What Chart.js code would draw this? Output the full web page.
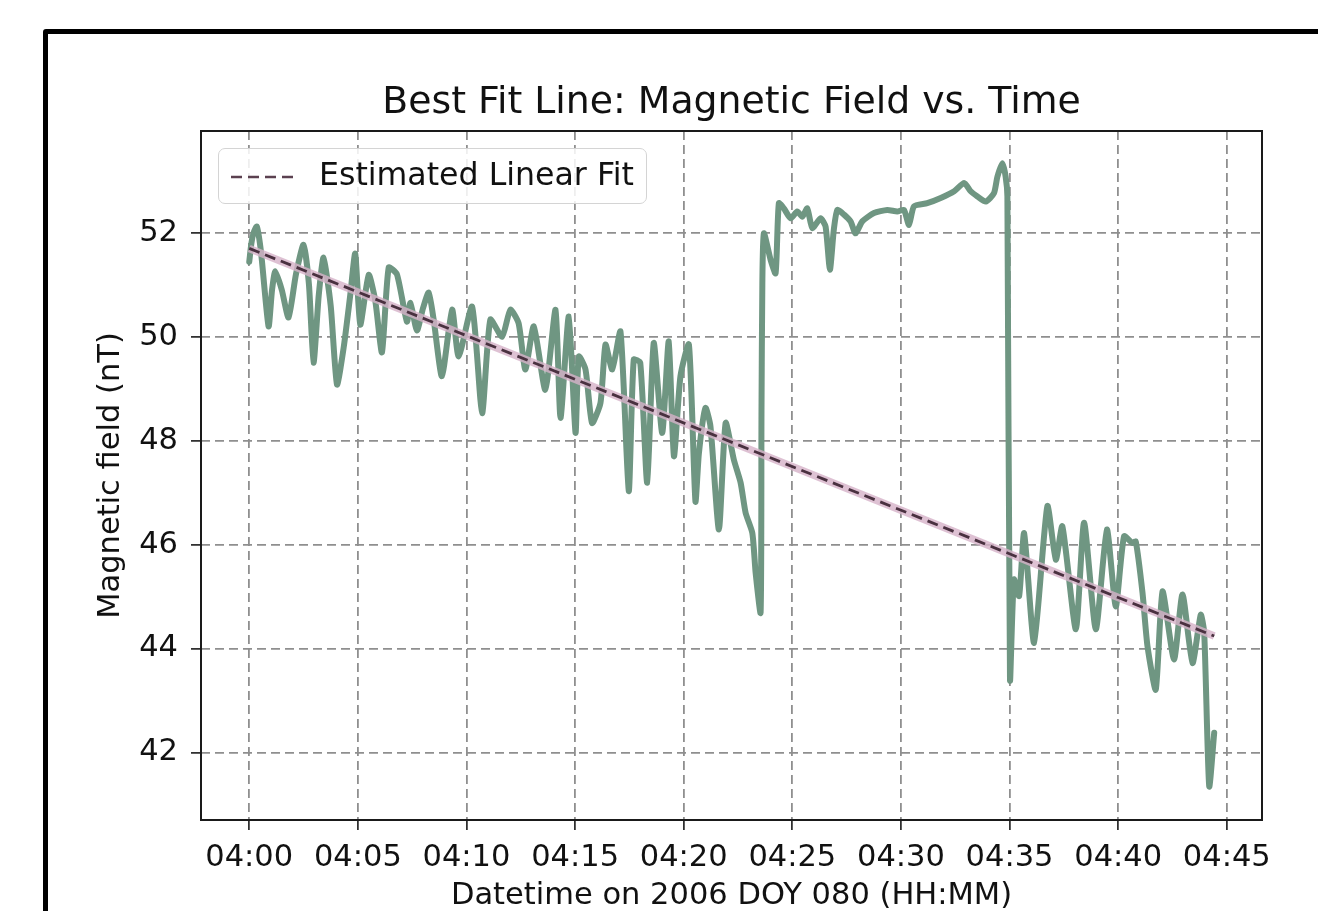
<!DOCTYPE html>
<html>
<head>
<meta charset="utf-8">
<title>Best Fit Line: Magnetic Field vs. Time</title>
<script src="https://cdn.jsdelivr.net/npm/chart.js@4/dist/chart.umd.min.js"></script>
<style>
  html, body { margin: 0; padding: 0; background: #fff; overflow: hidden; }
  #wrap { position: absolute; left: 0; top: 0; width: 1318px; height: 911px; }
  #frame {
    position: absolute; left: 43px; top: 29px; width: 1400px; height: 1000px;
    border: 5px solid #000; border-radius: 3px; pointer-events: none;
  }
  #spines {
    position: absolute; left: 200px; top: 130px; width: 1063px; height: 691px;
    box-sizing: border-box; border: 2px solid #1a1a1a; pointer-events: none;
  }
  #legend {
    position: absolute; left: 218px; top: 148px; width: 429px; height: 56px;
    box-sizing: border-box; border: 1.5px solid #d4d4d4; border-radius: 7px;
    background: rgba(255,255,255,0.85);
    font-family: "DejaVu Sans", sans-serif; font-size: 31.6px; color: #111;
  }
  #legend svg { position: absolute; left: 11px; top: 20px; }
  #legend span { position: absolute; left: 100px; top: 7px; white-space: nowrap; }
</style>
</head>
<body>
<div id="wrap"><canvas id="chart"></canvas></div>
<div id="spines"></div>
<div id="legend">
  <svg width="64" height="16"><line x1="1" y1="8" x2="63" y2="8" stroke="#5b4150" stroke-width="2.6" stroke-dasharray="11 6"/></svg>
  <span>Estimated Linear Fit</span>
</div>
<div id="frame"></div>
<script>
// minutes after 04:00 and field strength (nT)
var magTime = [
  0.00, 0.10, 0.20, 0.35, 0.55, 0.89, 1.05, 1.20, 1.50, 1.81, 2.15, 2.50, 2.75, 2.96,
  3.20, 3.42, 3.75, 4.04, 4.35, 4.65, 4.88, 5.11, 5.50, 5.80, 6.11, 6.42, 6.80, 7.26,
  7.42, 7.72, 8.00, 8.26, 8.49, 8.87, 9.34, 9.64, 10.26, 10.72, 11.10, 11.64, 12.02,
  12.40, 12.71, 13.10, 13.63, 14.10, 14.33, 14.71, 15.02, 15.17, 15.48, 15.78, 16.17,
  16.40, 16.71, 17.09, 17.47, 17.70, 18.00, 18.32, 18.62, 19.01, 19.31, 19.55, 19.85,
  20.24, 20.54, 20.70, 21.00, 21.23, 21.62, 21.93, 22.31, 22.62, 22.85, 23.16, 23.31,
  23.54, 23.58, 23.62, 23.69, 24.00, 24.23, 24.38, 24.61, 24.92, 25.23, 25.46, 25.69,
  25.92, 26.30, 26.53, 26.73, 26.91, 27.07, 27.38, 27.68, 27.91, 28.22, 28.76, 29.37,
  29.83, 30.14, 30.37, 30.60, 31.21, 31.83, 32.45, 32.91, 33.21, 33.52, 33.90, 34.28,
  34.44, 34.67, 34.82, 34.90, 35.02, 35.20, 35.44, 35.67, 36.13, 36.74, 37.13, 37.43,
  38.05, 38.43, 38.97, 39.48, 39.89, 40.27, 40.66, 40.81, 41.12, 41.35, 41.73, 42.04,
  42.57, 42.96, 43.42, 43.80, 43.96, 44.19, 44.42
];
var magField = [
  51.44, 51.80, 52.00, 52.12, 51.60, 50.20, 50.90, 51.26, 50.90, 50.37, 51.20, 51.77, 51.00, 49.50,
  50.80, 51.52, 50.60, 49.08, 49.80, 50.80, 51.60, 50.23, 51.19, 50.70, 49.70, 51.33, 51.20, 50.29,
  50.65, 50.12, 50.55, 50.85, 50.33, 49.24, 50.52, 49.62, 50.58, 48.53, 50.33, 50.00, 50.52,
  50.26, 49.37, 50.20, 48.98, 50.52, 48.44, 50.39, 48.15, 49.62, 49.37, 48.34, 48.73,
  49.85, 49.37, 50.10, 47.03, 49.56, 49.50, 47.19, 49.88, 48.15, 49.91, 47.70, 49.24,
  49.85, 46.83, 47.76, 48.63, 48.28, 46.29, 48.34, 47.63, 47.19, 46.61, 46.22, 45.46,
  44.69, 48.50, 51.03, 51.99, 51.48, 51.22, 52.57, 52.47, 52.28, 52.41, 52.31, 52.47,
  52.09, 52.28, 52.12, 51.29, 52.06, 52.44, 52.35, 52.22, 51.99, 52.22, 52.38, 52.44,
  52.41, 52.44, 52.15, 52.51, 52.57, 52.67, 52.80, 52.96, 52.80, 52.70, 52.60, 52.76,
  53.08, 53.34, 53.08, 52.70, 43.40, 45.33, 45.01, 46.22, 44.11, 46.74, 45.71, 46.35,
  44.37, 46.42, 44.37, 46.29, 44.81, 46.16, 46.03, 46.06, 45.07, 44.04, 43.21, 45.10,
  43.79, 45.04, 43.72, 44.65, 44.30, 41.35, 42.38
];

// straight-line fit end points
var fitTime = [0.00, 44.42];
var fitField = [51.70, 44.24];

var xTickValues = [0, 5, 10, 15, 20, 25, 30, 35, 40, 45];
var xTickLabels = ['04:00', '04:05', '04:10', '04:15', '04:20', '04:25', '04:30', '04:35', '04:40', '04:45'];
var yTickValues = [42, 44, 46, 48, 50, 52];

function toPoints(xs, ys) {
  return xs.map(function (x, i) { return { x: x, y: ys[i] }; });
}

Chart.defaults.font.family = '"DejaVu Sans", sans-serif';
Chart.defaults.color = '#111';

var gridStyle = {
  color: '#8f8f8f',
  lineWidth: 1.8,
  tickColor: '#1a1a1a',
  tickWidth: 1.6,
  tickLength: 10,
  tickBorderDash: []
};

new Chart(document.getElementById('chart'), {
  type: 'line',
  data: {
    datasets: [{
      label: 'Estimated Linear Fit',
      data: toPoints(fitTime, fitField),
      borderColor: '#4a3140',
      borderWidth: 2.8,
      borderDash: [11, 6],
      pointRadius: 0,
      order: 0
    }, {
      label: 'fit halo',
      data: toPoints(fitTime, fitField),
      borderColor: 'rgba(214, 178, 200, 0.8)',
      borderWidth: 7.5,
      pointRadius: 0,
      order: 1
    }, {
      label: 'Magnetic field',
      data: toPoints(magTime, magField),
      borderColor: '#6f9682',
      borderWidth: 6,
      pointRadius: 0,
      tension: 0.2,
      borderJoinStyle: 'round',
      borderCapStyle: 'round',
      order: 2
    }]
  },
  options: {
    responsive: true,
    maintainAspectRatio: false,
    animation: false,
    layout: { padding: { left: 0, right: 56, top: 0, bottom: 0 } },
    plugins: {
      legend: { display: false },
      tooltip: { enabled: false },
      title: {
        display: true,
        fullSize: false,
        text: 'Best Fit Line: Magnetic Field vs. Time',
        color: '#111',
        font: { size: 37.8, weight: 'normal' },
        padding: { top: 80, bottom: 5.6 }
      }
    },
    scales: {
      x: {
        type: 'linear',
        min: -2.22,
        max: 46.62,
        afterBuildTicks: function (scale) {
          scale.ticks = xTickValues.map(function (v) { return { value: v }; });
        },
        afterFit: function (scale) { scale.height = 91; },
        ticks: {
          font: { size: 30.5 },
          color: '#111',
          padding: 10,
          maxRotation: 0,
          autoSkip: false,
          callback: function (value) {
            var i = xTickValues.indexOf(value);
            return i >= 0 ? xTickLabels[i] : '';
          }
        },
        grid: gridStyle,
        border: { display: false, dash: [9, 5] },
        title: {
          display: true,
          text: 'Datetime on 2006 DOY 080 (HH:MM)',
          font: { size: 30.5 },
          color: '#111',
          padding: { top: 0, bottom: -3 }
        }
      },
      y: {
        type: 'linear',
        min: 40.7,
        max: 53.96,
        afterBuildTicks: function (scale) {
          scale.ticks = yTickValues.map(function (v) { return { value: v }; });
        },
        afterFit: function (scale) { scale.width = 201; },
        ticks: {
          font: { size: 30.5 },
          color: '#111',
          padding: 13
        },
        grid: gridStyle,
        border: { display: false, dash: [9, 5] },
        title: {
          display: true,
          text: 'Magnetic field (nT)',
          font: { size: 30.5 },
          color: '#111',
          padding: { top: 93, bottom: 0 }
        }
      }
    }
  }
});
</script>
</body>
</html>
